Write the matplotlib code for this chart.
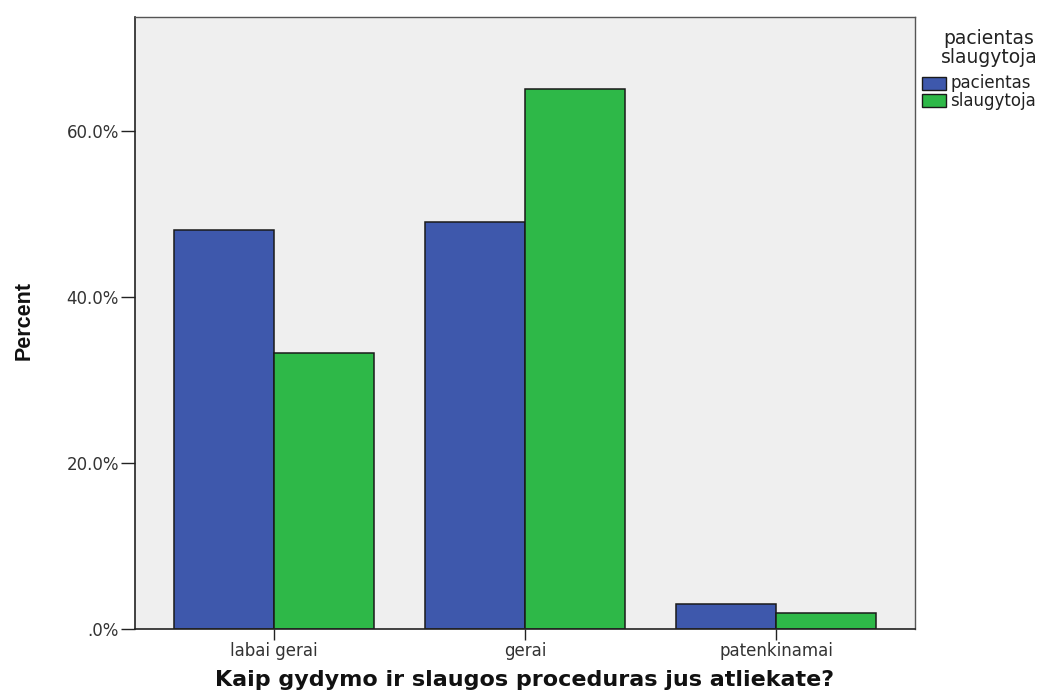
import matplotlib
matplotlib.use('Agg')
import matplotlib.pyplot as plt
import numpy as np
from matplotlib import font_manager
from matplotlib.patches import Rectangle
from matplotlib.ticker import FuncFormatter

plt.rcParams['font.family'] = ['DejaVu Sans']

# data (percent)
categories = ['labai gerai', 'gerai', 'patenkinamai']
groups = ['pacientas', 'slaugytoja']
pacientas = [48.1, 49.0, 3.0]
slaugytoja = [33.2, 65.0, 1.9]
colors = ['#3E58AC', '#2EB848']

W, H = 1050, 691


def px(x, y):
    # pixel position -> figure fraction
    return x / W, 1 - y / H


fig = plt.figure(figsize=(W / 100, H / 100), dpi=100)
ax = fig.add_axes([135 / W, 62 / H, 780 / W, 612 / H])
ax.set_facecolor('#EFEFEF')

x = np.arange(len(categories))
w = 0.4
ax.bar(x - w / 2, pacientas, w, color=colors[0], edgecolor='#1a1a1a', linewidth=1.1)
ax.bar(x + w / 2, slaugytoja, w, color=colors[1], edgecolor='#1a1a1a', linewidth=1.1)

ax.set_xlim(-0.554, 2.554)
ax.set_ylim(0, 73.7)
ax.set_xticks(x)
ax.set_xticklabels(categories, fontsize=12)
ax.set_yticks([0, 20, 40, 60])
ax.yaxis.set_major_formatter(FuncFormatter(lambda v, p: '.0%' if v == 0 else f'{v:.1f}%'))
ax.tick_params(axis='y', labelsize=12, length=10, width=1, pad=1.5,
               color='#222222', labelcolor='#333333')
ax.tick_params(axis='x', length=8, width=1, pad=1.5,
               color='#222222', labelcolor='#333333')

for side in ['left', 'bottom']:
    ax.spines[side].set_color('#222222')
    ax.spines[side].set_linewidth(1.2)
for side in ['top', 'right']:
    ax.spines[side].set_color('#555555')
    ax.spines[side].set_linewidth(1.0)

# axis titles
fig.text(*px(525, 686), 'Kaip gydymo ir slaugos proceduras jus atliekate?',
         fontsize=16, fontweight='bold', ha='center', va='baseline', color='#111111')

names = {f.name for f in font_manager.fontManager.ttflist}
if 'Liberation Sans Narrow' in names:
    fig.text(*px(24, 321), 'Percent', family='Liberation Sans Narrow', fontsize=18.5,
             fontweight='bold', rotation=90, ha='center', va='center', color='#111111')
else:
    fig.text(*px(24, 321), 'Percent', family='Liberation Sans', fontsize=15.5,
             fontweight='bold', rotation=90, ha='center', va='center', color='#111111')

# legend drawn by hand
fig.text(*px(989, 48), 'pacientas\nslaugytoja', fontsize=13.5, ha='center', va='center',
         multialignment='center', linespacing=0.95, color='#222222')
for i, (g, c) in enumerate(zip(groups, colors)):
    yc = 83.5 + i * 17
    x0, y0 = px(922, yc + 6.5)
    fig.patches.append(Rectangle((x0, y0), 24 / W, 13 / H, transform=fig.transFigure,
                                 facecolor=c, edgecolor='#1a1a1a', linewidth=1))
    fig.text(*px(950, yc), g, fontsize=12, ha='left', va='center', color='#222222')

fig.savefig('out.png', dpi=100)
